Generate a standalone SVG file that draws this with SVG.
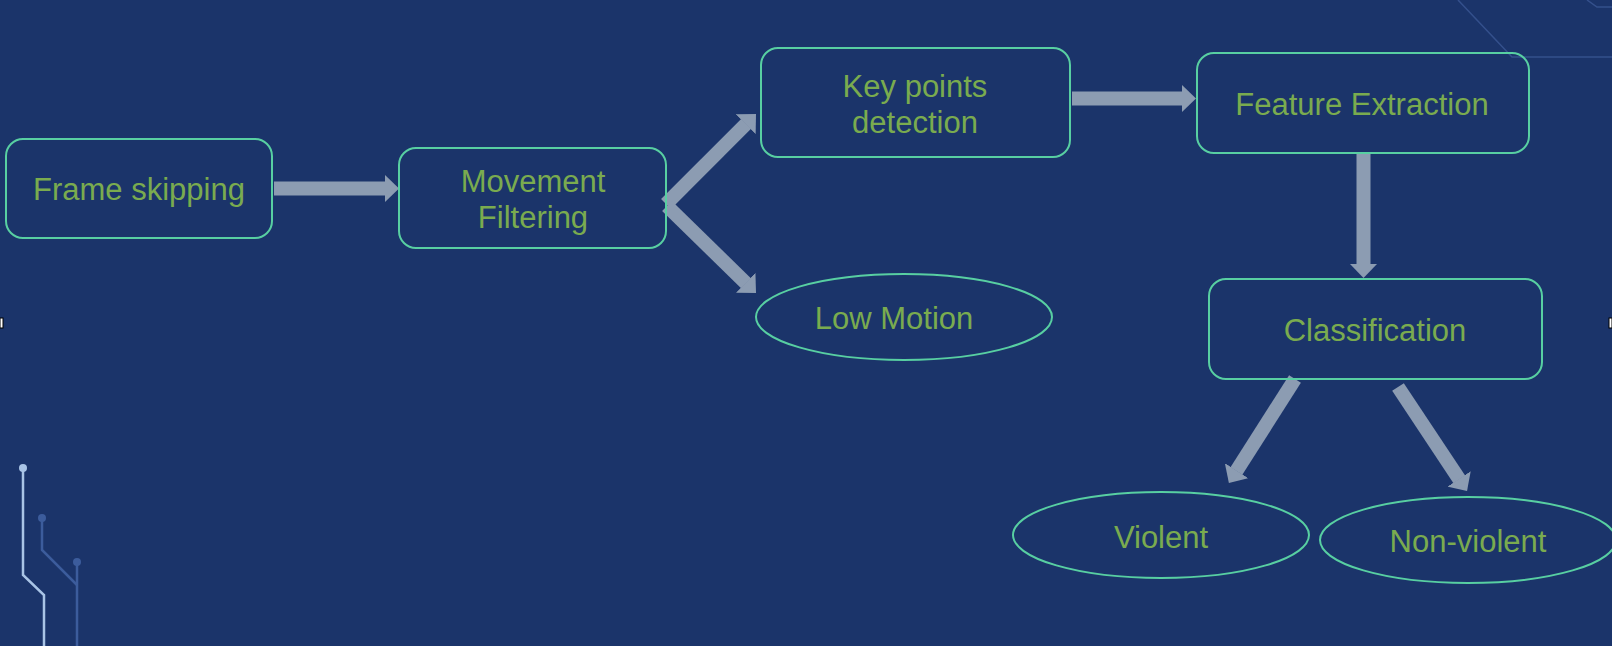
<svg xmlns="http://www.w3.org/2000/svg" width="1612" height="646" viewBox="0 0 1612 646">
<style>
.box{fill:none;stroke:#58cfa2;stroke-width:2}
.lbl{font-family:"Liberation Sans",Arial,sans-serif;font-size:31px;fill:#7aab4f;text-anchor:middle}
.arr{stroke:#8c9cb2;stroke-width:14;fill:none}
.deco1{stroke:#a9c4e6;stroke-width:2.5;fill:none}
.deco2{stroke:#3c5c9c;stroke-width:2.5;fill:none}
.deco3{stroke:#34508c;stroke-width:1.5;fill:none}
</style>
<defs>
<marker id="ah" markerUnits="userSpaceOnUse" markerWidth="16" markerHeight="28" refX="0.5" refY="14" orient="auto">
<path d="M0,0 L14.5,14 L0,28 z" fill="#8c9cb2"/>
</marker>
</defs>
<rect width="1612" height="646" fill="#1b346a"/>
<g id="decor">
<path class="deco1" d="M23,468 V575 L44,595 V646"/>
<circle cx="23" cy="468" r="4" fill="#a9c4e6"/>
<path class="deco2" d="M42,518 V550 L77,585"/>
<path class="deco2" d="M77,562 V646"/>
<circle cx="42" cy="518" r="4" fill="#3c5c9c"/>
<circle cx="77" cy="562" r="4" fill="#3c5c9c"/>
<path class="deco3" d="M1458,0 L1512,57 H1612"/>
<path class="deco3" d="M1587,0 L1597,7 H1612"/>
<rect x="0" y="318" width="3" height="10" fill="#ffffff" stroke="#000" stroke-width="1"/>
<rect x="1609" y="318" width="3" height="10" fill="#ffffff" stroke="#000" stroke-width="1"/>
</g>
<g id="connectors">
<line class="arr" x1="274" y1="188.5" x2="385" y2="188.5" marker-end="url(#ah)"/>
<line class="arr" x1="1072" y1="98.5" x2="1182" y2="98.5" marker-end="url(#ah)"/>
<line class="arr" x1="1363.5" y1="153" x2="1363.5" y2="264" marker-end="url(#ah)"/>
<line class="arr" x1="666" y1="204" x2="746.1" y2="123.9" marker-end="url(#ah)"/>
<line class="arr" x1="667" y1="206" x2="746" y2="283.2" marker-end="url(#ah)"/>
<line class="arr" x1="1295" y1="379" x2="1236.4" y2="471.1" marker-end="url(#ah)"/>
<line class="arr" x1="1398" y1="387" x2="1459.3" y2="479.3" marker-end="url(#ah)"/>
</g>
<g id="frame-skipping">
<rect class="box" x="6" y="139" width="266" height="99" rx="17"/>
<text class="lbl" x="139" y="200">Frame skipping</text>
</g>
<g id="movement-filtering">
<rect class="box" x="399" y="148" width="267" height="100" rx="17"/>
<text class="lbl" x="533" y="192">Movement</text>
<text class="lbl" x="533" y="228">Filtering</text>
</g>
<g id="key-points">
<rect class="box" x="761" y="48" width="309" height="109" rx="17"/>
<text class="lbl" x="915" y="97">Key points</text>
<text class="lbl" x="915" y="133">detection</text>
</g>
<g id="feature-extraction">
<rect class="box" x="1197" y="53" width="332" height="100" rx="17"/>
<text class="lbl" x="1362" y="115">Feature Extraction</text>
</g>
<g id="classification">
<rect class="box" x="1209" y="279" width="333" height="100" rx="17"/>
<text class="lbl" x="1375" y="341">Classification</text>
</g>
<g id="low-motion">
<ellipse class="box" cx="904" cy="317" rx="148" ry="43"/>
<text class="lbl" x="894" y="329">Low Motion</text>
</g>
<g id="violent">
<ellipse class="box" cx="1161" cy="535" rx="148" ry="43"/>
<text class="lbl" x="1161" y="548">Violent</text>
</g>
<g id="non-violent">
<ellipse class="box" cx="1468" cy="540" rx="148" ry="43"/>
<text class="lbl" x="1468" y="552">Non-violent</text>
</g>
</svg>
